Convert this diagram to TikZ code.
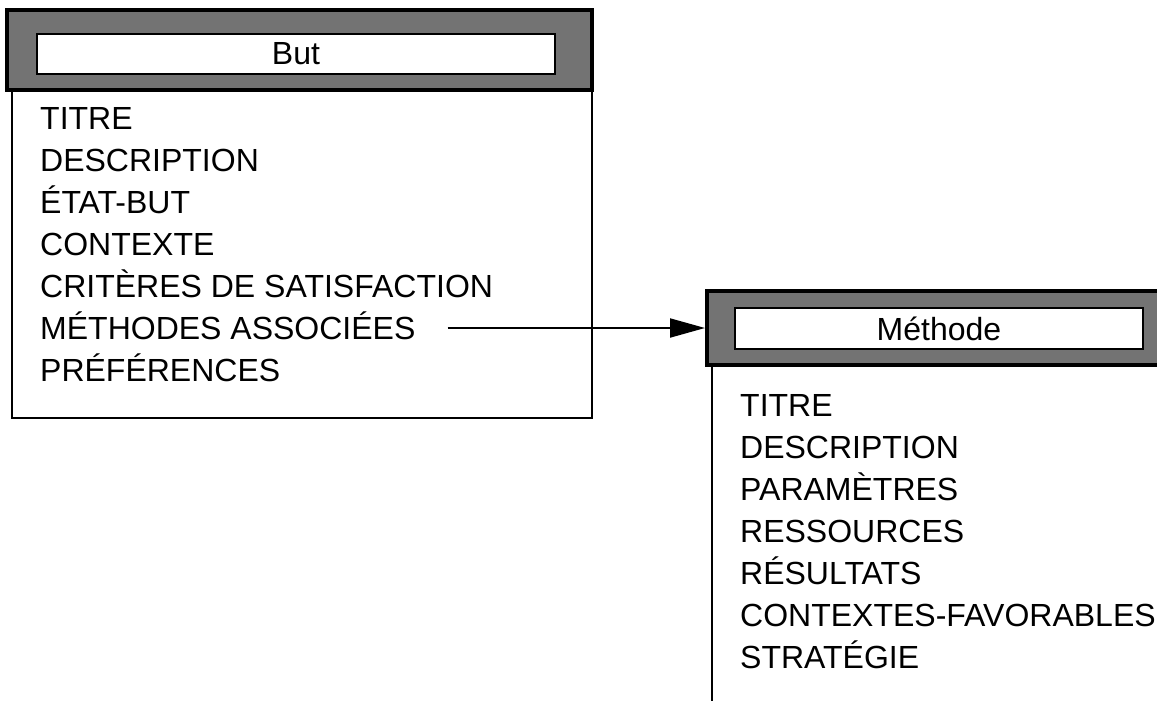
\documentclass[tikz,border=0pt]{standalone}
\usepackage{fontspec}
\setmainfont{Liberation Sans}
\usetikzlibrary{arrows.meta}

\tikzset{
  field/.style={anchor=west, inner sep=0pt, text height=23pt, text depth=0pt,
                font=\fontsize{32}{38}\selectfont},
  headbar/.style={draw=black, line width=4pt, fill=black!55, inner sep=0pt},
  headlabel/.style={draw=black, line width=1.5pt, fill=white, inner sep=0pt,
                    font=\fontsize{32}{38}\selectfont},
  frame/.style={line width=2.5pt},
}

\begin{document}
\begin{tikzpicture}[x=1pt,y=-1pt]
\clip (0,0) rectangle (1157,701);

% But - body
\draw[frame] (12,90) -- (12,418) -- (592,418) -- (592,90);
% But - header
\node[headbar, minimum width=585pt, minimum height=80pt] (butbar) at (299.5,50) {};
\node[headlabel, minimum width=518pt, minimum height=40pt] (buthead) at (296,54) {But};
\foreach \i/\txt in {1/TITRE, 2/DESCRIPTION, 3/ÉTAT-BUT, 4/CONTEXTE,
                     5/CRITÈRES DE SATISFACTION, 6/MÉTHODES ASSOCIÉES, 7/PRÉFÉRENCES} {
    \node[field] (b\i) at (40,76+42*\i) {\txt};
}

% Methode - body (cut by the page edge)
\draw[frame] (712,365) -- (712,710);
% Methode - header
\node[headbar, minimum width=468pt, minimum height=74pt] (methbar) at (941,328) {};
\node[headlabel, minimum width=408pt, minimum height=41pt] (methhead) at (939,328.5) {Méthode};
\foreach \i/\txt in {1/TITRE, 2/DESCRIPTION, 3/PARAMÈTRES, 4/RESSOURCES,
                     5/RÉSULTATS, 6/CONTEXTES-FAVORABLES, 7/STRATÉGIE} {
    \node[field] (m\i) at (740,363+42*\i) {\txt};
}

% link
\draw[-{Triangle[length=35pt,width=19pt]}, line width=2pt, shorten <=32pt] (b6.east) -- (methbar.west);

\end{tikzpicture}
\end{document}
